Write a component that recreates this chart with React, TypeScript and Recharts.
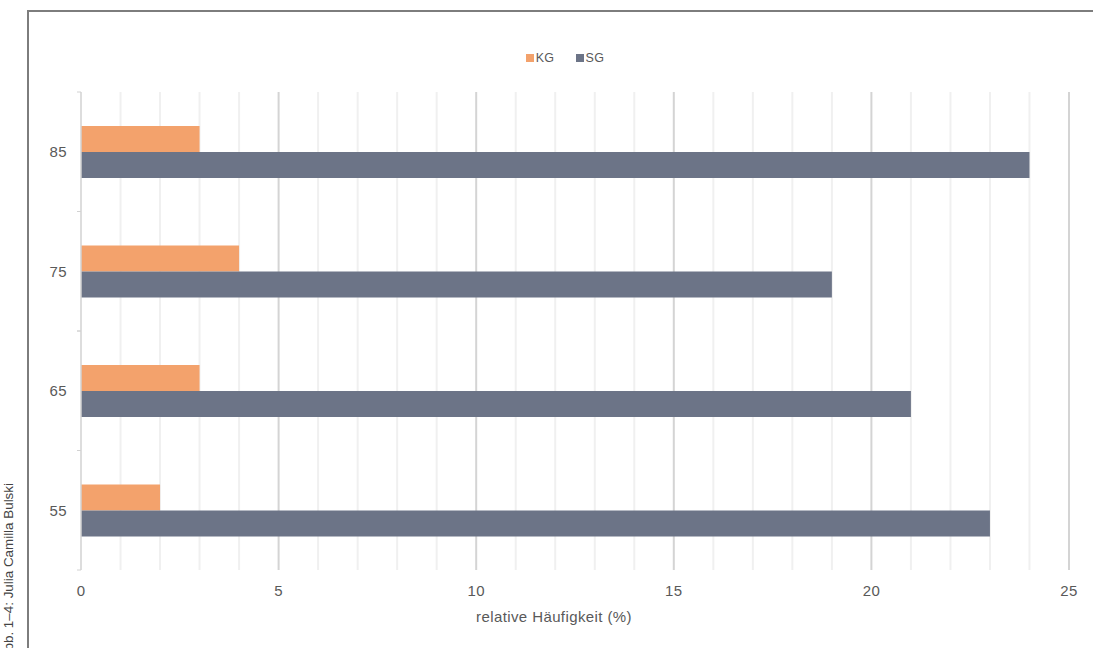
import React from 'react';
import { BarChart, Bar, XAxis, YAxis, CartesianGrid, Legend } from 'recharts';

// Age groups (top to bottom) and relative frequencies in percent
const ageGroups = ['85', '75', '65', '55'];
const kgShares = [3, 4, 3, 2];
const sgShares = [24, 19, 21, 23];

const xTickValues = [0, 5, 10, 15, 20, 25];
const majorGridValues = [5, 10, 15, 20, 25];
const minorGridValues = [1, 2, 3, 4, 6, 7, 8, 9, 11, 12, 13, 14, 16, 17, 18, 19, 21, 22, 23, 24];

const seriesLabels = ['KG', 'SG'];
const seriesColors = ['#F3A26C', '#6C7487'];

const data = ageGroups.map((age, i) => ({ age, kg: kgShares[i], sg: sgShares[i] }));

const FONT = '"Liberation Sans", Arial, Helvetica, sans-serif';
const TEXT = '#595959';
const AXIS = '#d2d2d2';

const LegendContent = () => (
  <div
    style={{
      display: 'flex',
      justifyContent: 'center',
      alignItems: 'center',
      height: 16,
      fontSize: 12.5,
      color: TEXT,
      fontFamily: FONT,
    }}
  >
    {seriesLabels.map((name, i) => (
      <span key={name} style={{ display: 'flex', alignItems: 'center', marginLeft: i ? 21 : 0 }}>
        <span style={{ display: 'inline-block', width: 8, height: 8, background: seriesColors[i], marginRight: 2 }} />
        {name}
      </span>
    ))}
  </div>
);

// Category label plus small tick marks on the band edges (above and below each band)
const CategoryTick = (props: any) => {
  const { x, y, payload } = props;
  const half = payload && payload.offset ? payload.offset : 0;
  const axisX = x + 14;
  return (
    <g>
      <line x1={axisX - 4} x2={axisX} y1={y - half} y2={y - half} stroke={AXIS} />
      <line x1={axisX - 4} x2={axisX} y1={y + half} y2={y + half} stroke={AXIS} />
      <text x={x} y={y} dy="0.355em" textAnchor="end" fill={TEXT} fontSize={15}>
        {payload.value}
      </text>
    </g>
  );
};

export default function App() {
  return (
    <div
      style={{
        position: 'absolute',
        left: 0,
        top: 0,
        width: 1093,
        height: 648,
        background: '#ffffff',
        overflow: 'hidden',
      }}
    >
      {/* frame */}
      <div
        style={{
          position: 'absolute',
          left: 27,
          top: 10,
          width: 1200,
          height: 800,
          borderLeft: '2px solid #7d7d7d',
          borderTop: '2px solid #7d7d7d',
        }}
      />
      {/* figure credit */}
      <svg style={{ position: 'absolute', left: 0, top: 0 }} width={30} height={648}>
        <text
          x={12.5}
          y={483}
          transform="rotate(-90 12.5 483)"
          textAnchor="end"
          fontSize={13.4}
          fill="#444"
          fontFamily={FONT}
        >
          Abb. 1–4: Julia Camilla Bulski
        </text>
      </svg>
      <div style={{ position: 'absolute', left: 0, top: 0 }}>
        <BarChart
          width={1093}
          height={648}
          data={data}
          layout="vertical"
          margin={{ top: 50, right: 24, bottom: 18, left: 41 }}
          barGap={0}
          style={{ fontFamily: FONT, letterSpacing: '0.4px' }}
        >
          <CartesianGrid horizontal={false} stroke="#f0f0f0" strokeWidth={2} verticalValues={minorGridValues} />
          <CartesianGrid horizontal={false} stroke="#d4d4d4" strokeWidth={2} verticalValues={majorGridValues} />
          <Legend
            verticalAlign="top"
            align="center"
            height={42}
            content={() => <LegendContent />}
            wrapperStyle={{ left: 37, width: 1056, top: 50 }}
          />
          <YAxis
            type="category"
            dataKey="age"
            width={40}
            axisLine={{ stroke: AXIS, strokeWidth: 1.5 }}
            tickLine={false}
            tickSize={0}
            tickMargin={14}
            tick={<CategoryTick />}
          />
          <XAxis
            type="number"
            domain={[0, 25]}
            ticks={xTickValues}
            interval={0}
            height={60}
            axisLine={false}
            tickLine={false}
            tickSize={0}
            tickMargin={15}
            tick={{ fill: TEXT, fontSize: 15 }}
            label={{
              value: 'relative Häufigkeit (%)',
              position: 'insideBottom',
              offset: 8,
              dx: -21,
              fill: TEXT,
              fontSize: 15,
            }}
          />
          <Bar dataKey="kg" name={seriesLabels[0]} fill={seriesColors[0]} barSize={26} isAnimationActive={false} />
          <Bar dataKey="sg" name={seriesLabels[1]} fill={seriesColors[1]} barSize={26} isAnimationActive={false} />
        </BarChart>
      </div>
    </div>
  );
}
